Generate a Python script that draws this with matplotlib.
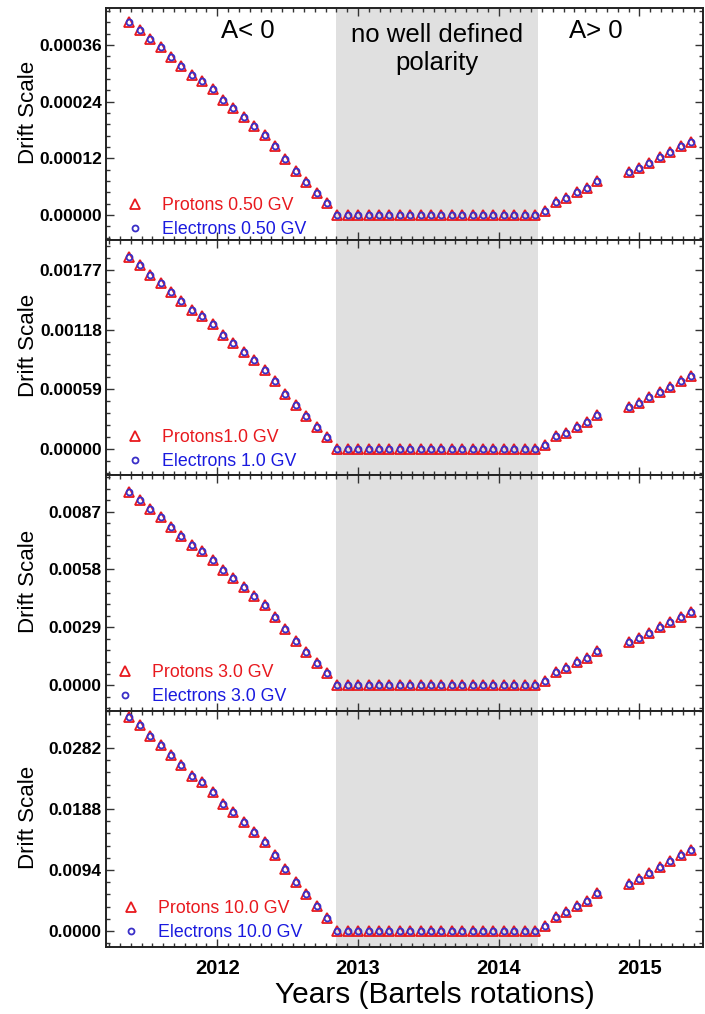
import matplotlib
matplotlib.use("Agg")
import matplotlib.pyplot as plt
from matplotlib.ticker import FixedLocator, MultipleLocator, AutoMinorLocator, FormatStrFormatter
import numpy as np

plt.rcParams['font.family'] = ['Liberation Sans', 'DejaVu Sans']

# ---------------- data ----------------
# Bartels rotation numbers (two rotations missing before 2015)
bartels = [r for r in range(2426, 2481) if r not in (2472, 2473)]
first_rotation_year = 2011.3746
rotation_days = 27.0

# Drift scale values, A<0 descent (20 pts), no-polarity (20 zeros), A>0 rise (13 pts)
p050_desc = [4.09, 3.92, 3.72, 3.55, 3.35, 3.16, 2.96, 2.84, 2.66, 2.43,
             2.26, 2.07, 1.89, 1.69, 1.45, 1.18, 0.94, 0.705, 0.472, 0.248]
p050_rise = [0.091, 0.269, 0.353, 0.48, 0.579, 0.72,
             0.904, 0.988, 1.11, 1.22, 1.33, 1.45, 1.55]
p10_desc = [18.94, 18.15, 17.22, 16.44, 15.51, 14.63, 13.70, 13.15, 12.32, 11.25,
            10.46, 9.58, 8.75, 7.82, 6.71, 5.46, 4.35, 3.26, 2.19, 1.15]
p10_rise = [0.42, 1.25, 1.63, 2.22, 2.68, 3.33, 4.19, 4.57, 5.14, 5.65, 6.16, 6.71, 7.18]
p30_desc = [96.9, 92.9, 88.2, 84.1, 79.4, 74.9, 70.2, 67.3, 63.0, 57.6,
            53.6, 49.1, 44.8, 40.1, 34.4, 28.0, 22.3, 16.7, 11.2, 5.88]
p30_rise = [2.16, 6.38, 8.37, 11.4, 13.7, 17.1, 21.4, 23.4, 26.3, 28.9, 31.5, 34.4, 36.7]
p100_desc = [330.5, 316.7, 300.6, 286.8, 270.7, 255.3, 239.2, 229.5, 214.9, 196.3,
             182.6, 167.3, 152.7, 136.6, 117.2, 95.3, 76.0, 57.0, 38.1, 20.0]
p100_rise = [7.35, 21.7, 28.5, 38.8, 46.8, 58.2, 73.0, 79.8, 89.7, 98.6, 107.5, 117.2, 125.2]
n_zero = 20
value_unit = 1e-4

labels_p = ["Protons 0.50 GV", "Protons1.0 GV", "Protons 3.0 GV", "Protons 10.0 GV"]
labels_e = ["Electrons 0.50 GV", "Electrons 1.0 GV", "Electrons 3.0 GV", "Electrons 10.0 GV"]
yticks = [[0.0, 0.00012, 0.00024, 0.00036],
          [0.0, 0.00059, 0.00118, 0.00177],
          [0.0, 0.0029, 0.0058, 0.0087],
          [0.0, 0.0094, 0.0188, 0.0282]]
ytick_fmt = ["%.5f", "%.5f", "%.4f", "%.4f"]
ylims = [(-0.0000529, 0.000438), (-0.000257, 0.002066), (-0.0013, 0.01054), (-0.00247, 0.0339)]
xlim = (2011.209, 2015.452)
no_polarity = (2012.844, 2014.277)
year_ticks = [2012, 2013, 2014, 2015]

series = [(p050_desc, p050_rise), (p10_desc, p10_rise), (p30_desc, p30_rise), (p100_desc, p100_rise)]
years = [first_rotation_year + (b - 2426) * rotation_days / 365.25 for b in bartels]

# ---------------- figure ----------------
W, H = 705, 1014
fig = plt.figure(figsize=(W / 100, H / 100), dpi=100)
edges = [8, 240, 475, 711, 947]
left, right = 106, 703

legend_anchor = [(0.0129, -0.045), (0.0129, -0.032), (-0.0039, -0.0276), (0.0062, -0.0276)]

for i in range(4):
    top, bot = edges[i], edges[i + 1]
    ax = fig.add_axes([left / W, 1 - bot / H, (right - left) / W, (bot - top) / H])
    ax.axvspan(*no_polarity, color="#e0e0e0", lw=0, zorder=0)
    desc, rise = series[i]
    vals = [v * value_unit for v in list(desc) + [0.0] * n_zero + list(rise)]
    hp, = ax.plot(years, vals, ls="none", marker="^", ms=7.4, mfc="none", mec="#e8191e",
                  mew=1.3, label=labels_p[i], zorder=3)
    he, = ax.plot(years, vals, ls="none", marker="o", ms=4.3, mfc="none", mec="#3a2fc8",
                  mew=1.3, label=labels_e[i], zorder=4)
    ax.set_xlim(*xlim)
    ax.set_ylim(*ylims[i])
    ax.yaxis.set_major_locator(FixedLocator(yticks[i]))
    ax.yaxis.set_major_formatter(FormatStrFormatter(ytick_fmt[i]))
    ax.yaxis.set_minor_locator(AutoMinorLocator(5))
    ax.xaxis.set_major_locator(FixedLocator(year_ticks))
    ax.xaxis.set_minor_locator(MultipleLocator(1 / 13))
    ax.tick_params(which="both", direction="in", top=True, right=True, width=1.0, color="#333333")
    ax.tick_params(which="major", length=6)
    ax.tick_params(which="minor", length=3)
    ax.tick_params(axis="y", labelsize=12.5, pad=3)
    ax.tick_params(axis="x", labelsize=14.5, pad=9)
    for lab in ax.get_yticklabels() + ax.get_xticklabels():
        lab.set_fontweight("bold")
    if i < 3:
        ax.tick_params(axis="x", labelbottom=False)
    for s in ax.spines.values():
        s.set_linewidth(1.4)
        s.set_color("#222222")
    ax.set_ylabel("Drift Scale", fontsize=16)
    ax.yaxis.set_label_coords(-0.112, 0.55)
    leg = ax.legend(handles=[hp, he], loc="lower left", bbox_to_anchor=legend_anchor[i],
                    frameon=False, fontsize=12.8, handlelength=1.0, handletextpad=1.0,
                    labelspacing=0.38, borderaxespad=0.3, labelcolor=["#e8191e", "#1a1adf"])
    if i == 0:
        ax.text(0.237, 0.9, "A< 0", transform=ax.transAxes, fontsize=18.5, ha="center", va="center")
        ax.text(0.554, 0.823, "no well defined\npolarity", transform=ax.transAxes, fontsize=18.5,
                ha="center", va="center", linespacing=1.2)
        ax.text(0.82, 0.9, "A> 0", transform=ax.transAxes, fontsize=18.5, ha="center", va="center")
    if i == 3:
        ax.set_xlabel("Years (Bartels rotations)", fontsize=21.5)
        ax.xaxis.set_label_coords(0.551, -0.145)

fig.savefig("out.png", dpi=100)
